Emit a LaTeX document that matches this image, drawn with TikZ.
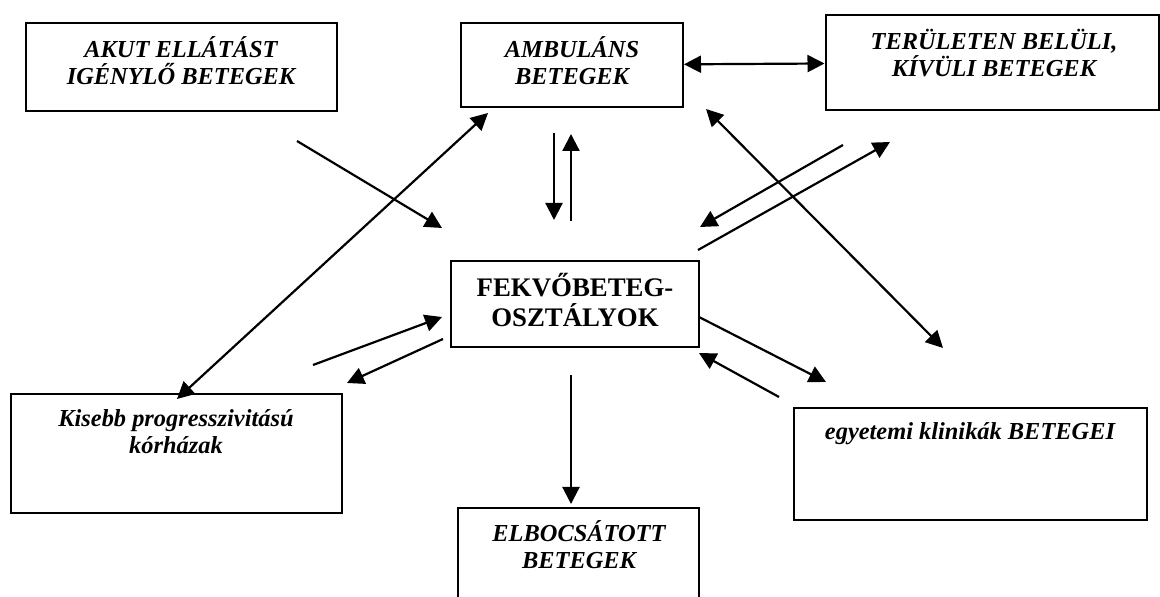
\documentclass[tikz,border=0pt]{standalone}
\usepackage{fontspec}
\setmainfont{Liberation Serif}
\usetikzlibrary{arrows.meta}

\begin{document}
\begin{tikzpicture}[
    x=0.5pt, y=-0.5pt,
    box/.style args={#1x#2}{rectangle, draw=black, line width=1pt, inner sep=0pt, minimum width=#1*0.5pt, minimum height=#2*0.5pt},
    lbl/.style={font=\bfseries\itshape\fontsize{12.2}{13.5}\selectfont, align=center, anchor=base, inner sep=0pt},
    mainlbl/.style={font=\bfseries\fontsize{13.4}{15}\selectfont, align=center, anchor=base, inner sep=0pt},
    arrow/.style={-{Triangle[length=8.5pt, width=8.5pt]}, line width=1.1pt},
    dblarrow/.style={{Triangle[length=8.5pt, width=8.5pt]}-{Triangle[length=8.5pt, width=8.5pt]}, line width=1.1pt}
]
\useasboundingbox (0,0) rectangle (1160,597);

% boxes
\node[box=311x88] (akut) at (181.5,67) {};
\node[box=222x84] (amb) at (572,65) {};
\node[box=333x95] (ter) at (992,62.5) {};
\node[box=248x86] (fekvo) at (575,304) {};
\node[box=331x119] (kisebb) at (176.5,453.5) {};
\node[box=353x112] (egy) at (970.5,464) {};
\node[box=241x112] (elb) at (578.5,564) {};

% texts (anchored on the baseline of their last line)
\node[lbl] (akutTxt) at (181,85) {AKUT ELLÁTÁST\\IGÉNYLŐ BETEGEK};
\node[lbl] (ambTxt) at (572,85) {AMBULÁNS\\BETEGEK};
\node[lbl] (terTxt) at (994,77) {TERÜLETEN BELÜLI,\\KÍVÜLI BETEGEK};
\node[mainlbl] (fekvoTxt) at (575,327) {FEKVŐBETEG-\\OSZTÁLYOK};
\node[lbl] (kisebbTxt) at (176,454) {Kisebb progresszivitású\\kórházak};
\node[lbl] (egyTxt) at (970,440) {egyetemi klinikák BETEGEI};
\node[lbl] (elbTxt) at (579,568) {ELBOCSÁTOTT\\BETEGEK};

% free ends of the connectors
\coordinate (akutOut) at (297,141);
\coordinate (akutIn) at (442,228);
\coordinate (kisebbTop) at (177,399);
\coordinate (ambLeft) at (488,113);
\coordinate (ambDownS) at (554,133);
\coordinate (ambDownE) at (554,220);
\coordinate (ambUpS) at (571,221);
\coordinate (ambUpE) at (571,134);
\coordinate (terOut) at (843,145);
\coordinate (terIn) at (700,227);
\coordinate (fekvoToTer) at (698,250);
\coordinate (terTip) at (890,142);
\coordinate (egyTop) at (943,348);
\coordinate (ambRight) at (706,109);
\coordinate (kisebbOut) at (313,365);
\coordinate (kisebbIn) at (442,317);
\coordinate (fekvoToKisebb) at (443,339);
\coordinate (kisebbTip) at (347,383);
\coordinate (fekvoToEgy) at (699,317);
\coordinate (egyTip) at (826,382);
\coordinate (egyOut) at (779,397);
\coordinate (egyIn) at (699,353);
\coordinate (fekvoBottom) at (571,375);
\coordinate (elbTip) at (571,504);

% connectors
\draw[arrow] (akutOut) -- (akutIn);
\draw[dblarrow] (kisebbTop) -- (ambLeft);
\draw[arrow] (ambDownS) -- (ambDownE);
\draw[arrow] (ambUpS) -- (ambUpE);
\draw[dblarrow] (amb) -- (ter);
\draw[arrow] (terOut) -- (terIn);
\draw[arrow] (fekvoToTer) -- (terTip);
\draw[dblarrow] (egyTop) -- (ambRight);
\draw[arrow] (kisebbOut) -- (kisebbIn);
\draw[arrow] (fekvoToKisebb) -- (kisebbTip);
\draw[arrow] (fekvoToEgy) -- (egyTip);
\draw[arrow] (egyOut) -- (egyIn);
\draw[arrow] (fekvoBottom) -- (elbTip);

\end{tikzpicture}
\end{document}
